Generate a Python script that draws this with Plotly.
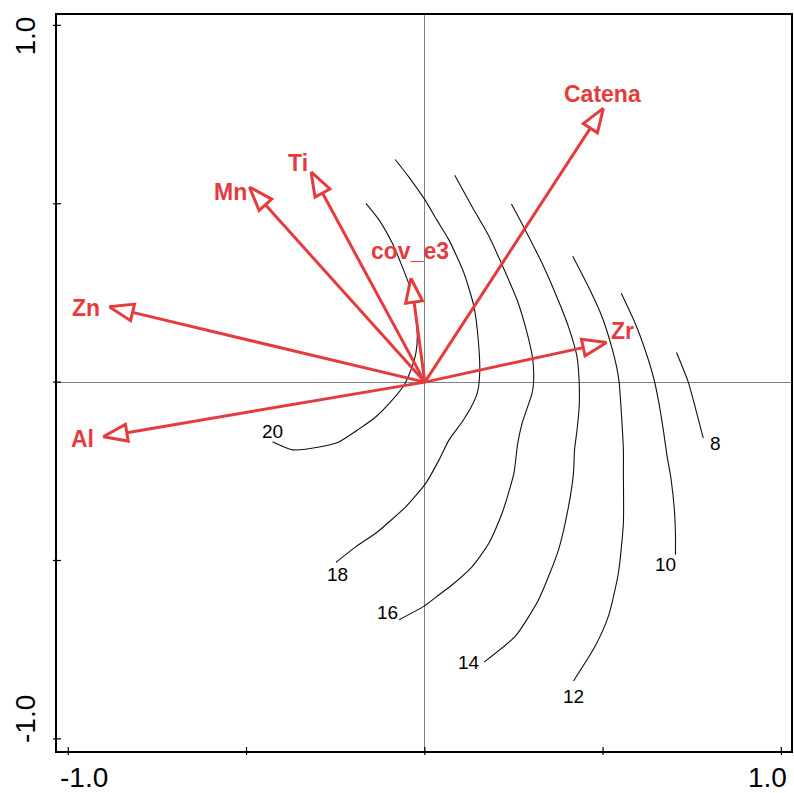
import numpy as np
import plotly.graph_objects as go

# ---- biplot arrows (environmental / explanatory variables) ----
var_names = ["Catena", "Ti", "Mn", "cov_e3", "Zn", "Al", "Zr"]
var_x = [0.501, -0.319, -0.492, -0.039, -0.885, -0.902, 0.510]
var_y = [0.768, 0.589, 0.547, 0.291, 0.211, -0.153, 0.111]

# ---- fitted isolines (level value -> polyline) ----
iso_levels = [20, 18, 16, 14, 12, 10, 8]
iso_x = {
    20: [-0.165, -0.128, -0.091, -0.063, -0.039, -0.025, -0.021, -0.025, -0.039, -0.058,
         -0.091, -0.137, -0.184, -0.240, -0.296, -0.370, -0.427],
    18: [-0.083, -0.044, 0.001, 0.034, 0.068, 0.110, 0.138, 0.150, 0.154, 0.147, 0.129,
         0.105, 0.068, 0.040, 0.003, -0.053, -0.137, -0.193, -0.249],
    16: [0.084, 0.133, 0.180, 0.217, 0.259, 0.287, 0.303, 0.305, 0.301, 0.273, 0.260,
         0.250, 0.217, 0.180, 0.133, 0.077, 0.040, -0.002, -0.072],
    14: [0.243, 0.282, 0.329, 0.366, 0.403, 0.427, 0.433, 0.433, 0.427, 0.420, 0.417,
         0.403, 0.375, 0.319, 0.254, 0.166],
    12: [0.415, 0.459, 0.497, 0.524, 0.538, 0.545, 0.552, 0.557, 0.557, 0.557, 0.543,
         0.515, 0.478, 0.417],
    10: [0.551, 0.590, 0.618, 0.641, 0.655, 0.669, 0.679, 0.691, 0.700, 0.703, 0.703],
    8: [0.706, 0.739, 0.758, 0.781],
}
iso_y = {
    20: [0.501, 0.454, 0.389, 0.323, 0.258, 0.183, 0.127, 0.081, 0.034, -0.008,
         -0.050, -0.097, -0.131, -0.167, -0.182, -0.190, -0.167],
    18: [0.624, 0.574, 0.510, 0.454, 0.398, 0.305, 0.211, 0.118, 0.025, -0.031, -0.072,
         -0.111, -0.162, -0.218, -0.283, -0.349, -0.423, -0.461, -0.505],
    16: [0.580, 0.491, 0.409, 0.328, 0.230, 0.137, 0.062, 0.000, -0.031, -0.115, -0.175,
         -0.255, -0.367, -0.451, -0.517, -0.568, -0.596, -0.628, -0.666],
    14: [0.499, 0.426, 0.333, 0.249, 0.155, 0.071, 0.000, -0.069, -0.134, -0.190, -0.255,
         -0.349, -0.470, -0.610, -0.712, -0.785],
    12: [0.353, 0.267, 0.183, 0.099, 0.043, 0.000, -0.097, -0.190, -0.255, -0.395, -0.535,
         -0.656, -0.740, -0.838],
    10: [0.249, 0.165, 0.090, 0.015, -0.050, -0.134, -0.204, -0.274, -0.358, -0.428, -0.484],
    8: [0.083, 0.000, -0.069, -0.157],
}
# where each isoline carries its level label
iso_label_x = [-0.427, -0.245, -0.105, 0.124, 0.417, 0.674, 0.814]
iso_label_y = [-0.139, -0.540, -0.647, -0.787, -0.880, -0.512, -0.171]

tick_vals = [-1.0, -0.5, 0.0, 0.5, 1.0]
tick_text = ["-1.0", "", "", "", "1.0"]

# ---- styling ----
RED = "#e63b3d"
FONT = "Liberation Sans, Arial, sans-serif"
X_RANGE = [-1.0316, 1.0271]
Y_RANGE = [-1.034, 1.029]
PX_PER_UNIT = 357.5
HEAD_LEN = 24 / PX_PER_UNIT
HEAD_HALF = 8.5 / PX_PER_UNIT
# label offsets (pixels) from each arrow tip
label_shift = {
    "Catena": (-1, 14), "Ti": (-13, 9), "Mn": (-19, -5), "cov_e3": (-1, 27),
    "Zn": (-23, -1), "Al": (-21, -2), "Zr": (16, 12),
}

fig = go.Figure()

# isolines
for lev in iso_levels:
    fig.add_trace(go.Scatter(
        x=iso_x[lev], y=iso_y[lev], mode="lines",
        line=dict(color="#111111", width=1.1, shape="spline", smoothing=0.6),
        hoverinfo="skip", showlegend=False,
    ))

# arrows: shaft to the base of an open triangular head
for name, tx, ty in zip(var_names, var_x, var_y):
    tip = np.array([tx, ty])
    u = tip / np.linalg.norm(tip)
    perp = np.array([-u[1], u[0]])
    base = tip - HEAD_LEN * u
    c1 = base + HEAD_HALF * perp
    c2 = base - HEAD_HALF * perp
    fig.add_trace(go.Scatter(
        x=[0, base[0]], y=[0, base[1]], mode="lines",
        line=dict(color=RED, width=3), hoverinfo="skip", showlegend=False,
    ))
    fig.add_trace(go.Scatter(
        x=[tip[0], c1[0], c2[0], tip[0]], y=[tip[1], c1[1], c2[1], tip[1]],
        mode="lines", fill="toself", fillcolor="white",
        line=dict(color=RED, width=3), hoverinfo="skip", showlegend=False,
    ))

annotations = []
for name, tx, ty in zip(var_names, var_x, var_y):
    dx, dy = label_shift[name]
    annotations.append(dict(
        x=tx, y=ty, xref="x", yref="y", text=f"<b>{name}</b>", showarrow=False,
        xanchor="center", yanchor="middle", xshift=dx, yshift=dy,
        font=dict(family=FONT, size=23, color=RED),
    ))
for lev, lx, ly in zip(iso_levels, iso_label_x, iso_label_y):
    annotations.append(dict(
        x=lx, y=ly, xref="x", yref="y", text=str(lev), showarrow=False,
        xanchor="center", yanchor="middle",
        font=dict(family=FONT, size=19, color="black"),
    ))

# axis end labels kept inside the frame span
TICK_FONT = dict(family=FONT, size=28, color="black")
annotations += [
    dict(x=0, y=0, xref="paper", yref="paper", text=tick_text[0], showarrow=False,
         xanchor="left", yanchor="top", xshift=1, yshift=-9, font=TICK_FONT),
    dict(x=1, y=0, xref="paper", yref="paper", text=tick_text[-1], showarrow=False,
         xanchor="right", yanchor="top", xshift=-2, yshift=-9, font=TICK_FONT),
    dict(x=0, y=1, xref="paper", yref="paper", text=tick_text[-1], showarrow=False,
         xanchor="center", yanchor="top", xshift=-32, yshift=0, textangle=-90,
         font=TICK_FONT),
    dict(x=0, y=0, xref="paper", yref="paper", text=tick_text[0], showarrow=False,
         xanchor="center", yanchor="bottom", xshift=-32, yshift=6, textangle=-90,
         font=TICK_FONT),
]

# tick marks crossing the left and bottom frame lines
shapes = []
t = 4 / 736
for v in tick_vals:
    shapes.append(dict(type="line", xref="x", yref="paper", x0=v, x1=v, y0=-t, y1=t,
                       line=dict(color="black", width=1.2)))
    shapes.append(dict(type="line", xref="paper", yref="y", x0=-t, x1=t, y0=v, y1=v,
                       line=dict(color="black", width=1.2)))

axis_common = dict(
    showgrid=False, zeroline=True, zerolinecolor="#808080", zerolinewidth=1,
    showline=True, mirror=True, linecolor="black", linewidth=1.5,
    ticks="", showticklabels=False, tickvals=tick_vals,
)
fig.update_layout(
    width=794, height=793,
    margin=dict(l=57, r=1, t=15, b=42),
    paper_bgcolor="white", plot_bgcolor="white",
    xaxis=dict(range=X_RANGE, **axis_common),
    yaxis=dict(range=Y_RANGE, **axis_common),
    annotations=annotations, shapes=shapes,
    showlegend=False,
)

fig.write_html("out.html")
